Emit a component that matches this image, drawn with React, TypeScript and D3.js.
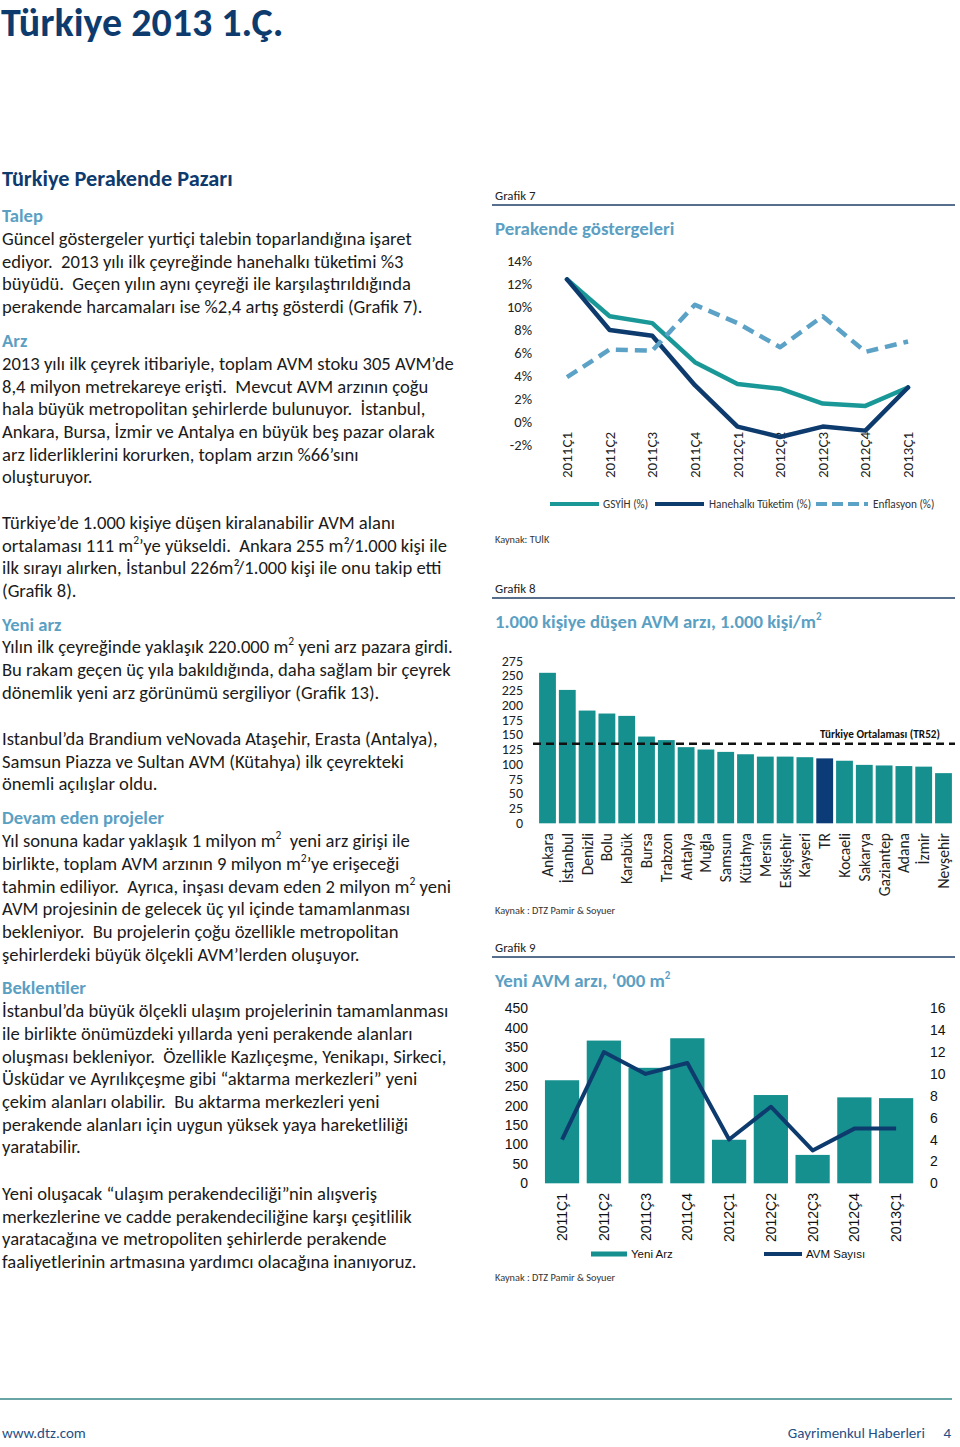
import React from "react";
import * as d3 from "d3";

// ---------- DATA ----------
const quarters = ["2011Ç1", "2011Ç2", "2011Ç3", "2011Ç4", "2012Ç1", "2012Ç2", "2012Ç3", "2012Ç4", "2013Ç1"];
const gsyih = [12.4, 9.2, 8.6, 5.2, 3.3, 2.9, 1.6, 1.4, 3.0];
const hanehalki = [12.4, 8.0, 7.5, 3.2, -0.4, -1.3, -0.4, -0.75, 3.0];
const enflasyon = [3.9, 6.3, 6.2, 10.2, 8.6, 6.5, 9.2, 6.1, 7.0];
const pctTicks = [-2, 0, 2, 4, 6, 8, 10, 12, 14];

const cities = ["Ankara", "İstanbul", "Denizli", "Bolu", "Karabük", "Bursa", "Trabzon", "Antalya", "Muğla", "Samsun", "Kütahya", "Mersin", "Eskişehir", "Kayseri", "TR", "Kocaeli", "Sakarya", "Gaziantep", "Adana", "İzmir", "Nevşehir"];
const cityValues = [255, 226, 191, 186, 182, 147, 141, 129, 125, 121, 117, 113, 113, 112, 110, 106, 99, 98, 97, 96, 85];
const trAverage = 135;
const avmTicks = [0, 25, 50, 75, 100, 125, 150, 175, 200, 225, 250, 275];

const yeniArz = [265, 367, 297, 373, 112, 227, 73, 221, 219];
const avmSayisi = [4, 12, 10, 11, 4, 7, 3, 5, 5];
const arzTicks = [0, 50, 100, 150, 200, 250, 300, 350, 400, 450];
const sayiTicks = [0, 2, 4, 6, 8, 10, 12, 14, 16];

// ---------- STYLE ----------
const NAVY = "#0e3b6e";
const TEAL = "#15908f";
const TEAL_LINE = "#1a9898";
const LIGHT = "#5ca2c6";
const HEAD = "#5b9fc3";
const TXT = "#1b1b1b";
const FONT = "Carlito, Lato, 'Open Sans', sans-serif";
const ARIAL = "'Liberation Sans', Arial, sans-serif";

type Block = { y: number; heading?: string; lines?: string[] };

const blocks: Block[] = [
  { y: 215, heading: "Talep" },
  { y: 238.3, lines: [
    "Güncel göstergeler yurtiçi talebin toparlandığına işaret",
    "ediyor.  2013 yılı ilk çeyreğinde hanehalkı tüketimi %3",
    "büyüdü.  Geçen yılın aynı çeyreği ile karşılaştırıldığında",
    "perakende harcamaları ise %2,4 artış gösterdi (Grafik 7).",
  ] },
  { y: 340, heading: "Arz" },
  { y: 363.3, lines: [
    "2013 yılı ilk çeyrek itibariyle, toplam AVM stoku 305 AVM’de",
    "8,4 milyon metrekareye erişti.  Mevcut AVM arzının çoğu",
    "hala büyük metropolitan şehirlerde bulunuyor.  İstanbul,",
    "Ankara, Bursa, İzmir ve Antalya en büyük beş pazar olarak",
    "arz liderliklerini korurken, toplam arzın %66’sını",
    "oluşturuyor.",
  ] },
  { y: 522.5, lines: [
    "Türkiye’de 1.000 kişiye düşen kiralanabilir AVM alanı",
    "ortalaması 111 m^2’ye yükseldi.  Ankara 255 m²/1.000 kişi ile",
    "ilk sırayı alırken, İstanbul 226m²/1.000 kişi ile onu takip etti",
    "(Grafik 8).",
  ] },
  { y: 624.3, heading: "Yeni arz" },
  { y: 646.7, lines: [
    "Yılın ilk çeyreğinde yaklaşık 220.000 m^2 yeni arz pazara girdi.",
    "Bu rakam geçen üç yıla bakıldığında, daha sağlam bir çeyrek",
    "dönemlik yeni arz görünümü sergiliyor (Grafik 13).",
  ] },
  { y: 738.3, lines: [
    "Istanbul’da Brandium veNovada Ataşehir, Erasta (Antalya),",
    "Samsun Piazza ve Sultan AVM (Kütahya) ilk çeyrekteki",
    "önemli açılışlar oldu.",
  ] },
  { y: 817.3, heading: "Devam eden projeler" },
  { y: 840.7, lines: [
    "Yıl sonuna kadar yaklaşık 1 milyon m^2  yeni arz girişi ile",
    "birlikte, toplam AVM arzının 9 milyon m^2’ye erişeceği",
    "tahmin ediliyor.  Ayrıca, inşası devam eden 2 milyon m^2 yeni",
    "AVM projesinin de gelecek üç yıl içinde tamamlanması",
    "bekleniyor.  Bu projelerin çoğu özellikle metropolitan",
    "şehirlerdeki büyük ölçekli AVM’lerden oluşuyor.",
  ] },
  { y: 987.3, heading: "Beklentiler" },
  { y: 1010.7, lines: [
    "İstanbul’da büyük ölçekli ulaşım projelerinin tamamlanması",
    "ile birlikte önümüzdeki yıllarda yeni perakende alanları",
    "oluşması bekleniyor.  Özellikle Kazlıçeşme, Yenikapı, Sirkeci,",
    "Üsküdar ve Ayrılıkçeşme gibi “aktarma merkezleri” yeni",
    "çekim alanları olabilir.  Bu aktarma merkezleri yeni",
    "perakende alanları için uygun yüksek yaya hareketliliği",
    "yaratabilir.",
  ] },
  { y: 1193.3, lines: [
    "Yeni oluşacak “ulaşım perakendeciliği”nin alışveriş",
    "merkezlerine ve cadde perakendeciliğine karşı çeşitlilik",
    "yaratacağına ve metropoliten şehirlerde perakende",
    "faaliyetlerinin artmasına yardımcı olacağına inanıyoruz.",
  ] },
];

const LINE_STEP = 22.7;
const BODY_SIZE = 18.6;

function renderLine(s: string) {
  const parts = s.split(/\^(.)/);
  const out: React.ReactNode[] = [];
  let shifted = false;
  parts.forEach((p, i) => {
    if (i % 2 === 1) {
      out.push(<tspan key={i} dy={-8} fontSize={11.5}>{p}</tspan>);
      shifted = true;
    } else if (p.length) {
      out.push(<tspan key={i} dy={shifted ? 8 : 0}>{p}</tspan>);
      shifted = false;
    }
  });
  return out;
}

function GrafikHeader({ y, label }: { y: number; label: string }) {
  return (
    <g>
      <text x={495} y={y + 4.5} fontSize={12.9} fill="#222" fontFamily={FONT}>{label}</text>
      <line x1={492} x2={955} y1={y + 10} y2={y + 10} stroke="#1f3f66" strokeWidth={1.3} />
    </g>
  );
}

function Chart7() {
  const x = d3.scalePoint<string>().domain(quarters).range([567, 908]);
  const y = d3.scaleLinear().domain([-2, 14]).range([445, 261]);
  const line = d3.line<number>().x((_, i) => x(quarters[i]) as number).y((d) => y(d));
  return (
    <g fontFamily={FONT}>
      <GrafikHeader y={195} label="Grafik 7" />
      <text x={495} y={235} fontSize={18.9} fontWeight="bold" fill={HEAD}>Perakende göstergeleri</text>
      {pctTicks.map((t) => (
        <text key={t} x={532} y={y(t) + 5} textAnchor="end" fontSize={14.5} fill="#222">{t}%</text>
      ))}
      {quarters.map((q) => (
        <text key={q} transform={`translate(${(x(q) as number) + 5},432) rotate(-90)`} textAnchor="end" fontSize={15} fill="#222">{q}</text>
      ))}
      <path d={line(gsyih) || ""} fill="none" stroke={TEAL_LINE} strokeWidth={4.5} strokeLinejoin="round" strokeLinecap="round" />
      <path d={line(hanehalki) || ""} fill="none" stroke={NAVY} strokeWidth={4.5} strokeLinejoin="round" strokeLinecap="round" />
      <path d={line(enflasyon) || ""} fill="none" stroke={LIGHT} strokeWidth={4.5} strokeDasharray="12,7" strokeLinejoin="round" />
      <g fontSize={11.3} fill="#333">
        <line x1={550} x2={599} y1={504} y2={504} stroke={TEAL_LINE} strokeWidth={4} />
        <text x={603} y={508}>GSYİH (%)</text>
        <line x1={655} x2={704} y1={504} y2={504} stroke={NAVY} strokeWidth={4} />
        <text x={709} y={508}>Hanehalkı Tüketim (%)</text>
        <line x1={816} x2={868} y1={504} y2={504} stroke={LIGHT} strokeWidth={4} strokeDasharray="11,5" />
        <text x={873} y={508}>Enflasyon (%)</text>
      </g>
      <text x={495} y={542.5} fontSize={10.3} fill="#333">Kaynak: TUİK</text>
    </g>
  );
}

function Chart8() {
  const x = d3.scaleBand<string>().domain(cities).range([537.6, 953.4]).paddingInner(0.15).paddingOuter(0.075);
  const y = d3.scaleLinear().domain([0, 275]).range([823.3, 661]);
  return (
    <g fontFamily={FONT}>
      <GrafikHeader y={588} label="Grafik 8" />
      <text x={495} y={627.5} fontSize={18.7} fontWeight="bold" fill={HEAD}>
        1.000 kişiye düşen AVM arzı, 1.000 kişi/m<tspan dy={-8} fontSize={11}>2</tspan>
      </text>
      {avmTicks.map((t) => (
        <text key={t} x={523} y={y(t) + 4.5} textAnchor="end" fontSize={14} fill="#222">{t}</text>
      ))}
      {cities.map((c, i) => (
        <rect key={c} x={x(c)} y={y(cityValues[i])} width={x.bandwidth()} height={y(0) - y(cityValues[i])} fill={c === "TR" ? "#0c3c78" : TEAL} />
      ))}
      <line x1={533} x2={955} y1={y(trAverage)} y2={y(trAverage)} stroke="#111" strokeWidth={2.5} strokeDasharray="8,5" />
      <text x={940} y={738} textAnchor="end" fontSize={11.2} fontWeight="bold" fill="#111">Türkiye Ortalaması (TR52)</text>
      {cities.map((c) => (
        <text key={c} transform={`translate(${(x(c) as number) + x.bandwidth() / 2 + 5.5},833) rotate(-90)`} textAnchor="end" fontSize={15.5} fill="#222">{c}</text>
      ))}
      <text x={495} y={913.5} fontSize={10.3} fill="#333">Kaynak : DTZ Pamir &amp; Soyuer</text>
    </g>
  );
}

function Chart9() {
  const x = d3.scaleBand<string>().domain(quarters).range([541.2, 917]).paddingInner(0.18).paddingOuter(0.09);
  const yL = d3.scaleLinear().domain([0, 450]).range([1183.3, 1008.3]);
  const yR = d3.scaleLinear().domain([0, 16]).range([1183.3, 1008.3]);
  const line = d3.line<number>().x((_, i) => (x(quarters[i]) as number) + x.bandwidth() / 2).y((d) => yR(d));
  return (
    <g>
      <g fontFamily={FONT}>
        <GrafikHeader y={947} label="Grafik 9" />
        <text x={495} y={986.5} fontSize={18.9} fontWeight="bold" fill={HEAD}>
          Yeni AVM arzı, ‘000 m<tspan dy={-8} fontSize={11}>2</tspan>
        </text>
        <text x={495} y={1280.5} fontSize={10.3} fill="#333">Kaynak : DTZ Pamir &amp; Soyuer</text>
      </g>
      <g fontFamily={ARIAL} fill="#111">
        {arzTicks.map((t) => (
          <text key={t} x={528} y={yL(t) + 5} textAnchor="end" fontSize={14}>{t}</text>
        ))}
        {sayiTicks.map((t) => (
          <text key={t} x={930} y={yR(t) + 5} fontSize={14}>{t}</text>
        ))}
        {quarters.map((q, i) => (
          <rect key={q} x={x(q)} y={yL(yeniArz[i])} width={x.bandwidth()} height={yL(0) - yL(yeniArz[i])} fill={TEAL} />
        ))}
        <path d={line(avmSayisi) || ""} fill="none" stroke={NAVY} strokeWidth={4} strokeLinejoin="round" />
        {quarters.map((q) => (
          <text key={q} transform={`translate(${(x(q) as number) + x.bandwidth() / 2 + 5},1193) rotate(-90)`} textAnchor="end" fontSize={14}>{q}</text>
        ))}
        <rect x={591} y={1251.5} width={36} height={5} fill={TEAL} />
        <text x={631} y={1258} fontSize={11.5}>Yeni Arz</text>
        <line x1={764} x2={802} y1={1254} y2={1254} stroke={NAVY} strokeWidth={4} />
        <text x={806} y={1258} fontSize={11.5}>AVM Sayısı</text>
      </g>
    </g>
  );
}

export default function App() {
  return (
    <svg width={960} height={1447} style={{ position: "absolute", left: 0, top: 0, background: "#fff" }} fontFamily={FONT}>
      <rect width={960} height={1447} fill="#fff" />
      <text x={1} y={35.5} fontSize={40} fontWeight="bold" fill={NAVY}>Türkiye 2013 1.Ç.</text>
      <text x={2} y={186} fontSize={22.3} fontWeight="bold" fill={NAVY}>Türkiye Perakende Pazarı</text>
      {blocks.map((b, bi) =>
        b.heading ? (
          <text key={bi} x={2} y={b.y + 6.5} fontSize={BODY_SIZE} fontWeight="bold" fill={HEAD}>{b.heading}</text>
        ) : (
          <g key={bi}>
            {(b.lines || []).map((l, li) => (
              <text key={li} x={2} y={b.y + 6.5 + li * LINE_STEP} fontSize={BODY_SIZE} fill={TXT} style={{ whiteSpace: "pre" }}>
                {renderLine(l)}
              </text>
            ))}
          </g>
        )
      )}
      <Chart7 />
      <Chart8 />
      <Chart9 />
      <line x1={0} x2={952} y1={1399} y2={1399} stroke="#6aa5a6" strokeWidth={2} />
      <text x={2} y={1438} fontSize={15} fill="#1f4f86">www.dtz.com</text>
      <text x={925} y={1438} textAnchor="end" fontSize={15} fill="#1f4f86">Gayrimenkul Haberleri</text>
      <text x={951} y={1438} textAnchor="end" fontSize={15} fill="#1f4f86">4</text>
    </svg>
  );
}
